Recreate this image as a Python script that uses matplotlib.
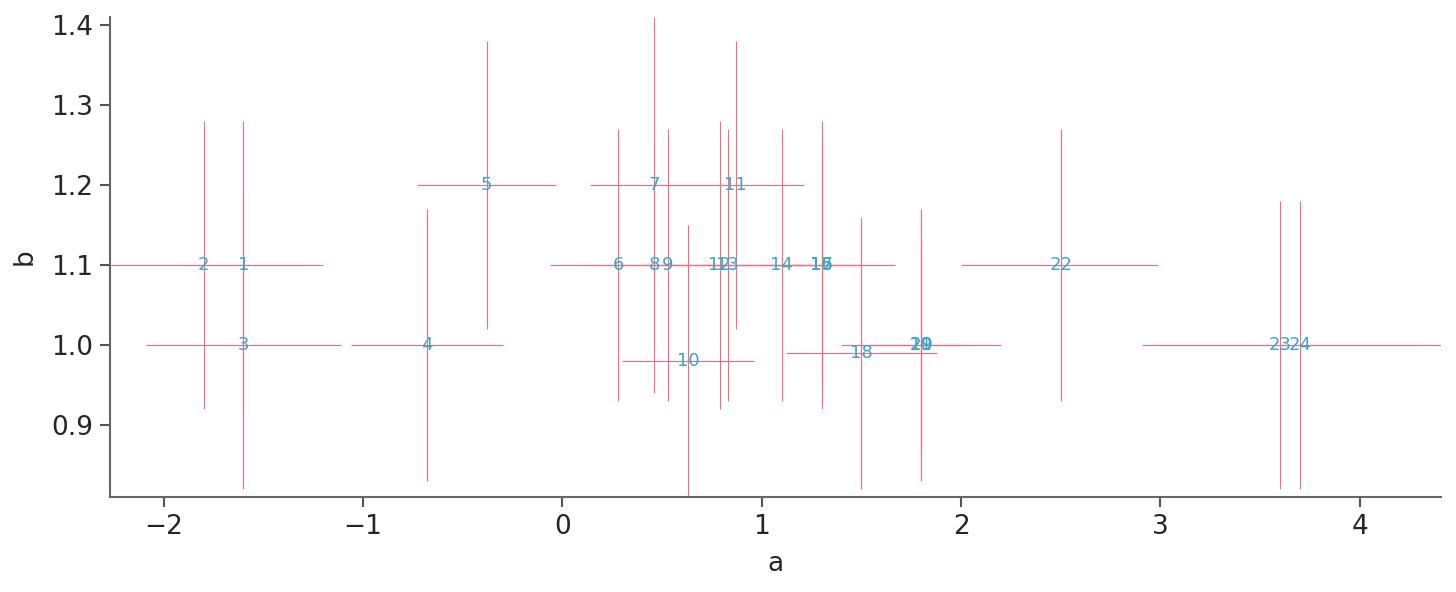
import matplotlib
matplotlib.use('Agg')
import matplotlib.pyplot as plt
import numpy as np

# Point labels and centres.
labels = [str(i) for i in range(1, 25)]
a = [-1.60, -1.80, -1.60, -0.68, -0.38, 0.28, 0.46, 0.46, 0.53, 0.63, 0.87, 0.79,
     0.83, 1.10, 1.30, 1.30, 1.30, 1.50, 1.80, 1.80, 1.80, 2.50, 3.60, 3.70]
b = [1.10, 1.10, 1.00, 1.00, 1.20, 1.10, 1.20, 1.10, 1.10, 0.98, 1.20, 1.10,
     1.10, 1.10, 1.10, 1.10, 1.10, 0.99, 1.00, 1.00, 1.00, 1.10, 1.00, 1.00]

# Interval ends for a and b.
a_low = [-1.90, -2.27, -2.09, -1.06, -0.73, -0.06, 0.14, 0.10, 0.20, 0.30, 0.50, 0.40,
         0.50, 0.70, 0.90, 1.00, 1.10, 1.12, 1.40, 1.45, 1.50, 2.00, 2.91, 3.00]
a_high = [-1.20, -1.30, -1.11, -0.30, -0.03, 0.60, 0.80, 0.90, 0.95, 0.96, 1.21, 1.20,
          1.30, 1.50, 1.67, 1.60, 1.50, 1.88, 2.20, 2.10, 2.00, 2.99, 4.30, 4.41]
b_low = [0.92, 0.92, 0.82, 0.83, 1.02, 0.93, 1.00, 0.94, 0.93, 0.81, 1.02, 0.92,
         0.93, 0.93, 0.92, 0.93, 0.95, 0.82, 0.83, 0.85, 0.87, 0.93, 0.82, 0.82]
b_high = [1.28, 1.28, 1.18, 1.17, 1.38, 1.27, 1.41, 1.25, 1.27, 1.15, 1.38, 1.28,
          1.27, 1.27, 1.28, 1.26, 1.25, 1.16, 1.17, 1.15, 1.13, 1.27, 1.18, 1.18]

line_col = '#f26b80'
text_col = '#38a8c6'

fig = plt.figure(figsize=(14.56, 5.92), dpi=100)
ax = fig.add_axes([0.0755, 0.1605, 0.9145, 0.8105])

ax.hlines(b, a_low, a_high, color=line_col, linewidth=0.8)
ax.vlines(a, b_low, b_high, color=line_col, linewidth=0.8)
for x, y, s in zip(a, b, labels):
    ax.text(x, y, s, color=text_col, fontsize=13, ha='center', va='center')

ax.set_xlim(min(a_low), max(a_high))
ax.set_ylim(min(b_low), max(b_high))
ax.set_xticks([-2, -1, 0, 1, 2, 3, 4])
ax.set_yticks([0.9, 1.0, 1.1, 1.2, 1.3, 1.4])

# Axes' settings.
for side in ['top', 'right']:
    ax.spines[side].set_visible(False)
for side in ['left', 'bottom']:
    ax.spines[side].set_color('#666666')
    ax.spines[side].set_linewidth(1.5)
ax.tick_params(labelsize=19, length=7, width=1.5, pad=5, color='#555555', labelcolor='#262626')
ax.set_xlabel('a', fontsize=19, color='#262626', labelpad=8)
ax.set_ylabel('b', fontsize=19, color='#262626', labelpad=10)

plt.savefig('out.png')
